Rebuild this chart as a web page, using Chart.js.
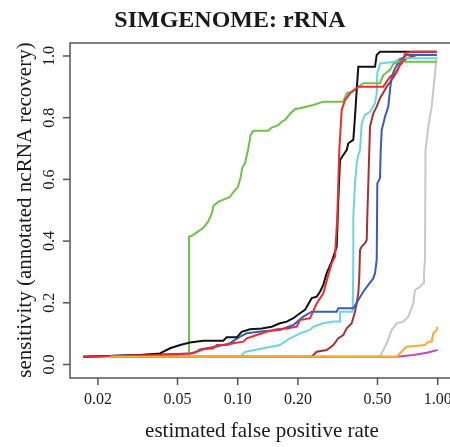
<!DOCTYPE html>
<html>
<head>
<meta charset="utf-8">
<script src="https://cdn.jsdelivr.net/npm/chart.js@4.4.1/dist/chart.umd.min.js"></script>
<style>
  html, body { margin: 0; padding: 0; background: #fff; overflow: hidden; }
  canvas { display: block; }
</style>
</head>
<body>
<canvas id="roc" width="460" height="447"></canvas>
<script>
// axis ticks (log x, linear y)
const xTicks = [0.02, 0.05, 0.1, 0.2, 0.5, 1.0]
const xTickLabels = ["0.02", "0.05", "0.10", "0.20", "0.50", "1.00"]
const yTicks = [0, 0.2, 0.4, 0.6, 0.8, 1.0]
const yTickLabels = ["0.0", "0.2", "0.4", "0.6", "0.8", "1.0"]

// curves: false positive rate / sensitivity
const greenFpr  = [0.023, 0.0571, 0.0571, 0.0600, 0.0671, 0.0710, 0.0744, 0.0755, 0.0797, 0.0915, 0.0951, 0.1003, 0.1035, 0.1053, 0.1088, 0.1126, 0.1161, 0.1197, 0.1422, 0.1479, 0.1596, 0.1660, 0.1723, 0.1826, 0.1934, 0.2048, 0.2388, 0.2679, 0.3373, 0.3508, 0.3715, 0.4246, 0.5146, 0.5346, 0.5774, 0.5998, 0.6353, 0.9886]
const greenSens = [0.025, 0.025, 0.414, 0.420, 0.4425, 0.462, 0.491, 0.514, 0.527, 0.543, 0.559, 0.575, 0.608, 0.637, 0.653, 0.695, 0.744, 0.758, 0.758, 0.768, 0.776, 0.787, 0.7925, 0.812, 0.828, 0.8305, 0.841, 0.852, 0.852, 0.879, 0.884, 0.9115, 0.9115, 0.938, 0.955, 0.974, 0.9815, 0.9815]

const blackFpr  = [0.0169, 0.0325, 0.0409, 0.0459, 0.0515, 0.0577, 0.0673, 0.0847, 0.0881, 0.0989, 0.1047, 0.1152, 0.1318, 0.1479, 0.1627, 0.1758, 0.1897, 0.2048, 0.2170, 0.2344, 0.2483, 0.2579, 0.2679, 0.2786, 0.2951, 0.3126, 0.3184, 0.3247, 0.3373, 0.3508, 0.3573, 0.3784, 0.3859, 0.3936, 0.4009, 0.4858, 0.4955, 0.5146, 0.9886]
const blackSens = [0.025, 0.031, 0.036, 0.0525, 0.063, 0.071, 0.077, 0.077, 0.088, 0.088, 0.106, 0.114, 0.117, 0.1225, 0.1335, 0.139, 0.150, 0.166, 0.177, 0.215, 0.220, 0.236, 0.258, 0.296, 0.333, 0.382, 0.533, 0.663, 0.679, 0.695, 0.717, 0.728, 0.803, 0.890, 0.965, 0.965, 1.003, 1.014, 1.014]

const redFpr  = [0.0169, 0.0409, 0.0577, 0.0624, 0.0673, 0.0755, 0.0785, 0.0881, 0.0951, 0.1067, 0.1109, 0.1245, 0.1396, 0.1567, 0.1758, 0.1972, 0.2048, 0.2299, 0.2483, 0.2679, 0.2838, 0.2951, 0.3065, 0.3148, 0.3184, 0.3221, 0.3311, 0.3439, 0.3643, 0.4009, 0.5346, 0.5559, 0.5774, 0.6116, 0.6353, 0.6478, 0.6730, 0.6863, 0.7551, 0.9886]
const redSens = [0.025, 0.031, 0.036, 0.0415, 0.049, 0.0525, 0.063, 0.063, 0.069, 0.074, 0.085, 0.0955, 0.106, 0.114, 0.117, 0.1225, 0.144, 0.150, 0.198, 0.231, 0.290, 0.328, 0.349, 0.479, 0.588, 0.695, 0.825, 0.857, 0.879, 0.9005, 0.9005, 0.9167, 0.933, 0.944, 0.960, 0.976, 0.987, 1.009, 1.014, 1.014]

const darkredFpr  = [0.023, 0.2344, 0.2483, 0.2786, 0.3006, 0.3184, 0.3373, 0.3508, 0.3715, 0.3859, 0.3936, 0.4009, 0.4055, 0.4088, 0.4169, 0.4330, 0.4416, 0.4446, 0.4498, 0.4550, 0.4587, 0.4764, 0.4955, 0.5146, 0.5559, 0.5888, 0.6237, 0.6478, 0.6998, 0.7852, 0.9886]
const darkredSens = [0.025, 0.025, 0.0415, 0.047, 0.063, 0.085, 0.0955, 0.117, 0.1335, 0.171, 0.198, 0.231, 0.285, 0.371, 0.382, 0.393, 0.4036, 0.479, 0.587, 0.695, 0.771, 0.814, 0.836, 0.863, 0.9005, 0.922, 0.949, 0.971, 0.9925, 1.003, 1.003]

const cyanFpr  = [0.023, 0.1027, 0.1088, 0.1343, 0.1627, 0.1826, 0.2048, 0.2299, 0.2388, 0.2679, 0.3006, 0.3247, 0.3247, 0.3758, 0.3784, 0.3784, 0.3859, 0.3936, 0.4009, 0.4088, 0.4169, 0.4330, 0.4587, 0.4858, 0.4955, 0.4989, 0.5146, 0.6116, 0.6478, 0.9886]
const cyanSens = [0.025, 0.025, 0.0405, 0.0525, 0.063, 0.085, 0.101, 0.112, 0.1225, 0.1335, 0.139, 0.139, 0.171, 0.171, 0.339, 0.479, 0.587, 0.652, 0.679, 0.695, 0.782, 0.809, 0.819, 0.847, 0.879, 0.944, 0.976, 0.9815, 0.9925, 0.9925]

const blueFpr  = [0.0169, 0.0600, 0.0648, 0.0785, 0.0915, 0.1027, 0.1109, 0.1337, 0.1627, 0.1897, 0.2128, 0.2344, 0.3126, 0.3184, 0.3784, 0.4009, 0.4246, 0.4498, 0.4764, 0.4858, 0.4955, 0.4989, 0.5146, 0.5188, 0.5248, 0.5451, 0.5662, 0.5774, 0.5888, 0.6116, 0.6478, 0.6998, 0.9886]
const blueSens = [0.025, 0.036, 0.049, 0.058, 0.069, 0.090, 0.101, 0.108, 0.112, 0.128, 0.155, 0.171, 0.171, 0.182, 0.182, 0.209, 0.236, 0.258, 0.279, 0.296, 0.339, 0.587, 0.604, 0.695, 0.760, 0.803, 0.836, 0.890, 0.933, 0.960, 0.987, 1.003, 1.003]

const grayFpr  = [0.023, 0.5146, 0.5559, 0.5888, 0.6237, 0.6730, 0.7129, 0.7551, 0.7700, 0.8156, 0.8472, 0.8540, 0.8639, 0.8690, 0.8974, 0.9333, 0.9583, 0.9886]
const graySens = [0.025, 0.025, 0.0687, 0.112, 0.1335, 0.139, 0.155, 0.198, 0.2415, 0.252, 0.263, 0.296, 0.339, 0.695, 0.771, 0.836, 0.9115, 0.998]

const orangeFpr  = [0.023, 0.6237, 0.6863, 0.6998, 0.8639, 0.8974, 0.9333, 0.9506, 0.9886, 0.9954]
const orangeSens = [0.025, 0.025, 0.0525, 0.0577, 0.063, 0.074, 0.074, 0.101, 0.112, 0.1225]

const purpleFpr  = [0.023, 0.6237, 0.7551, 0.8810, 1.0]
const purpleSens = [0.025, 0.025, 0.031, 0.038, 0.047]

const toPoints = (xs, ys) => xs.map((x, i) => ({ x, y: ys[i] }))

// listed top-most first (Chart.js paints dataset 0 last)
const series = [
  { fpr: orangeFpr,  sens: orangeSens,  color: "#fbab2e" },
  { fpr: purpleFpr,  sens: purpleSens,  color: "#c34bb4" },
  { fpr: redFpr,     sens: redSens,     color: "#ef2b2d" },
  { fpr: blackFpr,   sens: blackSens,   color: "#111111" },
  { fpr: greenFpr,   sens: greenSens,   color: "#6cc24a" },
  { fpr: blueFpr,    sens: blueSens,    color: "#3a5bbf" },
  { fpr: cyanFpr,    sens: cyanSens,    color: "#6fd3e3" },
  { fpr: darkredFpr, sens: darkredSens, color: "#a83232" },
  { fpr: grayFpr,    sens: graySens,    color: "#c8c8c8" }
]

// R-style box, ticks and labels, placed with the chart's own scales
const rAxes = {
  id: "rAxes",
  afterDraw(chart) {
    const { ctx, chartArea: a } = chart
    const x = chart.scales.x, y = chart.scales.y
    const seg = (x0, y0, x1, y1) => { ctx.beginPath(); ctx.moveTo(x0, y0); ctx.lineTo(x1, y1); ctx.stroke() }

    ctx.save()
    ctx.strokeStyle = "#555"
    ctx.lineWidth = 1.5
    ctx.strokeRect(a.left, a.top, a.right - a.left, a.bottom - a.top)

    ctx.fillStyle = "#1a1a1a"
    ctx.font = "16px 'Liberation Serif'"
    ctx.textAlign = "center"
    ctx.textBaseline = "alphabetic"
    xTicks.forEach((v, i) => {
      const px = x.getPixelForValue(v)
      seg(px, a.bottom, px, a.bottom + 7)
      ctx.fillText(xTickLabels[i], px, a.bottom + 26)
    })
    yTicks.forEach((v, i) => {
      const py = y.getPixelForValue(v)
      seg(a.left - 7, py, a.left, py)
      ctx.save()
      ctx.translate(a.left - 16.5, py)
      ctx.rotate(-Math.PI / 2)
      ctx.fillText(yTickLabels[i], 0, 0)
      ctx.restore()
    })

    ctx.font = "21px 'Liberation Serif'"
    ctx.fillText("estimated false positive rate", 262, 437)
    ctx.save()
    ctx.translate(31, 210)
    ctx.rotate(-Math.PI / 2)
    ctx.fillText("sensitivity (annotated ncRNA recovery)", 0, 0)
    ctx.restore()

    ctx.font = "bold 24px 'Liberation Serif'"
    ctx.fillText("SIMGENOME: rRNA", 230, 27)
    ctx.restore()
  }
}

new Chart(document.getElementById("roc").getContext("2d"), {
  type: "line",
  data: {
    datasets: series.map((s) => ({
      data: toPoints(s.fpr, s.sens),
      borderColor: s.color,
      borderWidth: 2,
      pointRadius: 0,
      tension: 0,
      fill: false
    }))
  },
  options: {
    responsive: false,
    animation: false,
    devicePixelRatio: 1,
    layout: { padding: { left: 70, top: 43, right: 8, bottom: 69 } },
    plugins: { legend: { display: false }, tooltip: { enabled: false } },
    scales: {
      x: { type: "logarithmic", min: 0.0145, max: 1.179, display: false },
      y: { type: "linear", min: -0.0438, max: 1.0421, display: false }
    }
  },
  plugins: [rAxes]
})
</script>
</body>
</html>
